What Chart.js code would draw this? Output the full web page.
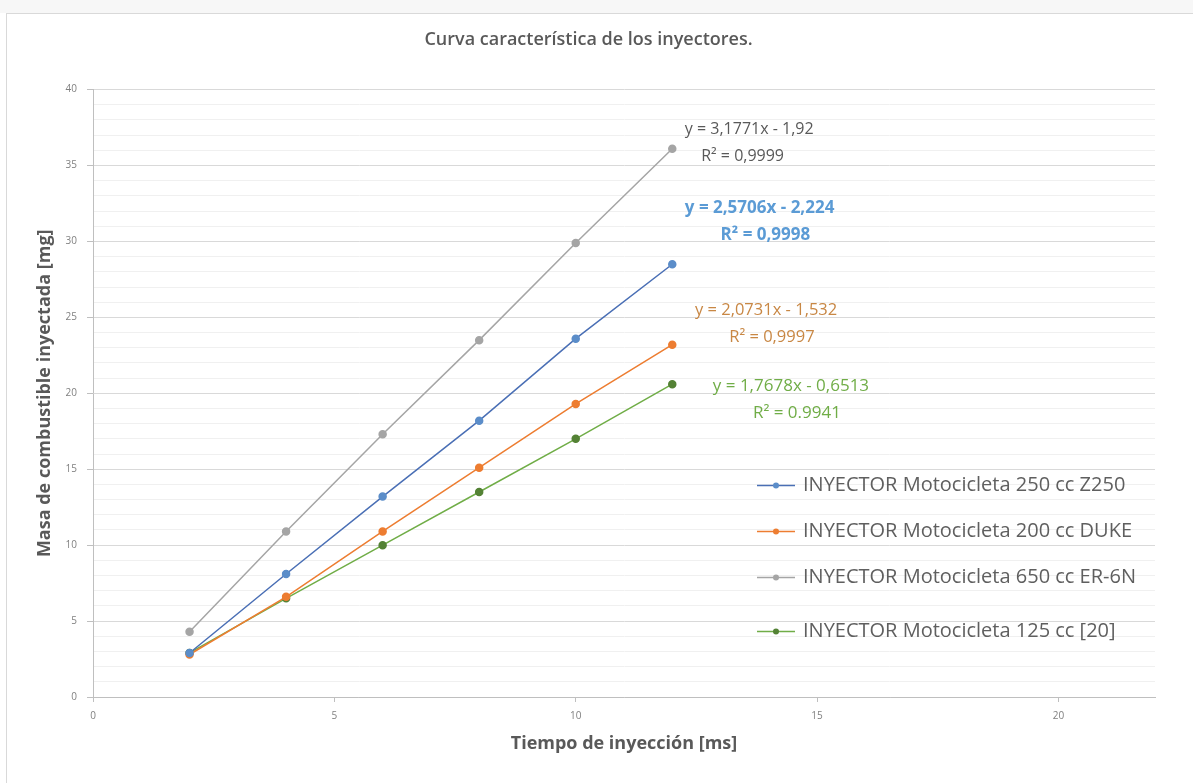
<!DOCTYPE html>
<html>
<head>
<meta charset="utf-8">
<script src="https://cdn.jsdelivr.net/npm/chart.js@4.4.1/dist/chart.umd.min.js"></script>
<style>
  html, body { margin: 0; padding: 0; background: #fff; }
  #top { position: absolute; left: 0; top: 0; width: 1193px; height: 13px; background: #f7f7f7; }
  #wrap { position: absolute; left: 6px; top: 13px; width: 1187px; height: 770px; border: 1px solid #d9d9d9; border-right: none; border-bottom: none; box-sizing: border-box; }
  canvas { position: absolute; left: 0; top: 0; }
</style>
</head>
<body>
<div id="top"></div>
<div id="wrap"></div>
<canvas id="chart" width="1193" height="783"></canvas>
<script>
// tiempo de inyeccion [ms]
const tiempos = [2, 4, 6, 8, 10, 12];

// masa inyectada [mg]
const z250 = [2.9, 8.1, 13.2, 18.2, 23.6, 28.5];
const duke200 = [2.8, 6.6, 10.9, 15.1, 19.3, 23.2];
const er6n650 = [4.3, 10.9, 17.3, 23.5, 29.9, 36.1];
const moto125 = [2.9, 6.5, 10.0, 13.5, 17.0, 20.6];

const seriesLabels = [
    'INYECTOR Motocicleta 250 cc Z250',
    'INYECTOR Motocicleta 200 cc DUKE',
    'INYECTOR Motocicleta 650 cc ER-6N',
    'INYECTOR Motocicleta 125 cc [20]'
];

const xTicks = [0, 5, 10, 15, 20];
const yTicks = [0, 5, 10, 15, 20, 25, 30, 35, 40];

// ecuaciones de tendencia (texto + posicion en unidades de los ejes)
const trendLabels = [
    { text: 'y = 3,1771x - 1,92', x: 12.26, y: 37.4, color: '#595959', bold: false, size: 16 },
    { text: 'R² = 0,9999', x: 12.6, y: 35.6, color: '#595959', bold: false, size: 16 },
    { text: 'y = 2,5706x - 2,224', x: 12.26, y: 32.2, color: '#5B9BD5', bold: true, size: 17 },
    { text: 'R² = 0,9998', x: 13.0, y: 30.4, color: '#5B9BD5', bold: true, size: 17 },
    { text: 'y = 2,0731x - 1,532', x: 12.47, y: 25.45, color: '#C88744', bold: false, size: 16.5 },
    { text: 'R² = 0,9997', x: 13.18, y: 23.67, color: '#C88744', bold: false, size: 16.5 },
    { text: 'y = 1,7678x - 0,6513', x: 12.84, y: 20.44, color: '#70AD47', bold: false, size: 17 },
    { text: 'R² = 0.9941', x: 13.67, y: 18.72, color: '#70AD47', bold: false, size: 17 }
];

const FONT = '"Open Sans", "DejaVu Sans", sans-serif';

function toPoints(values) {
    return tiempos.map((t, i) => ({ x: t, y: values[i] }));
}

const trendPlugin = {
    id: 'trendText',
    afterDatasetsDraw(chart) {
        const ctx = chart.ctx;
        const xs = chart.scales.x, ys = chart.scales.y;
        ctx.save();
        ctx.textBaseline = 'middle';
        ctx.textAlign = 'left';
        trendLabels.forEach(l => {
            ctx.font = (l.bold ? 'bold ' : '') + l.size + 'px ' + FONT;
            ctx.fillStyle = l.color;
            ctx.fillText(l.text, xs.getPixelForValue(l.x), ys.getPixelForValue(l.y));
        });
        ctx.restore();
    }
};

// leyenda dentro del area de graficos, como en Excel
const legendPlugin = {
    id: 'innerLegend',
    afterDatasetsDraw(chart) {
        const ctx = chart.ctx;
        const area = chart.chartArea;
        const x0 = area.left + 664;
        const rows = [area.top + 396, area.top + 442, area.top + 488, area.top + 542];
        ctx.save();
        chart.data.datasets.forEach((ds, i) => {
            const y = rows[i];
            ctx.strokeStyle = ds.borderColor;
            ctx.lineWidth = 1.5;
            ctx.beginPath();
            ctx.moveTo(x0, y);
            ctx.lineTo(x0 + 38, y);
            ctx.stroke();
            ctx.fillStyle = ds.pointBackgroundColor;
            ctx.beginPath();
            ctx.arc(x0 + 19, y, 3, 0, Math.PI * 2);
            ctx.fill();
            ctx.font = '20px ' + FONT;
            ctx.fillStyle = '#5f5f5f';
            ctx.textBaseline = 'middle';
            ctx.fillText(ds.label, x0 + 46, y);
        });
        ctx.restore();
    }
};

function makeDataset(label, values, line, marker) {
    return {
        label: label,
        data: toPoints(values),
        borderColor: line,
        backgroundColor: marker,
        pointBackgroundColor: marker,
        pointBorderColor: marker,
        pointRadius: 3.5,
        borderWidth: 1.5,
        showLine: true,
        tension: 0
    };
}

const ctx = document.getElementById('chart').getContext('2d');
new Chart(ctx, {
    type: 'scatter',
    data: {
        datasets: [
            makeDataset(seriesLabels[0], z250, '#4A6FB5', '#5B8DC9'),
            makeDataset(seriesLabels[1], duke200, '#ED7D31', '#ED7D31'),
            makeDataset(seriesLabels[2], er6n650, '#A5A5A5', '#A5A5A5'),
            makeDataset(seriesLabels[3], moto125, '#70AD47', '#548235')
        ]
    },
    options: {
        responsive: false,
        animation: false,
        layout: { padding: { left: 22, right: 38, top: 0, bottom: 22 } },
        plugins: {
            legend: { display: false },
            tooltip: { enabled: false },
            title: {
                display: true,
                text: 'Curva característica de los inyectores.',
                color: '#595959',
                font: { family: FONT, size: 18, weight: '600' },
                padding: { top: 29, bottom: 39 }
            }
        },
        scales: {
            x: {
                type: 'linear',
                min: 0,
                max: 22,
                afterBuildTicks: scale => {
                    scale.ticks = xTicks.map(v => ({ value: v }));
                },
                afterFit: scale => { scale.height = 783 - 697 - 22; },
                ticks: { color: '#808080', font: { family: FONT, size: 10 }, padding: 8 },
                grid: { drawOnChartArea: false, tickLength: 5, color: '#bfbfbf' },
                border: { color: '#bfbfbf' },
                title: {
                    display: true,
                    text: 'Tiempo de inyección [ms]',
                    color: '#595959',
                    font: { family: FONT, size: 18, weight: 'bold' },
                    padding: { top: 10, bottom: 6 }
                }
            },
            y: {
                min: 0,
                max: 40,
                afterBuildTicks: scale => {
                    const t = [];
                    for (let v = 0; v <= 40; v++) t.push({ value: v });
                    scale.ticks = t;
                },
                afterFit: scale => { scale.width = 93 - 22; },
                ticks: {
                    color: '#808080',
                    font: { family: FONT, size: 10 },
                    padding: 10,
                    autoSkip: false,
                    callback: v => (yTicks.includes(v) ? v : '')
                },
                grid: {
                    tickLength: 6,
                    color: c => (c.tick && c.tick.value % 5 === 0 ? '#d9d9d9' : '#f0f0f0'),
                    tickColor: c => (c.tick && c.tick.value % 5 === 0 ? '#bfbfbf' : 'rgba(0,0,0,0)')
                },
                border: { color: '#bfbfbf' },
                title: {
                    display: true,
                    text: 'Masa de combustible inyectada [mg]',
                    color: '#595959',
                    font: { family: FONT, size: 18, weight: 'bold' },
                    padding: { top: 12, bottom: 4 }
                }
            }
        }
    },
    plugins: [trendPlugin, legendPlugin]
});
</script>
</body>
</html>
